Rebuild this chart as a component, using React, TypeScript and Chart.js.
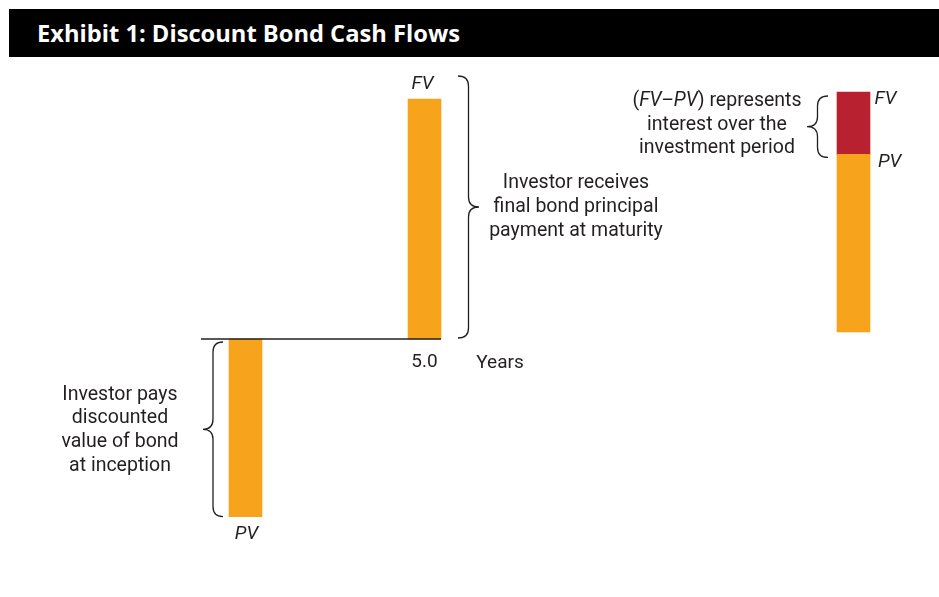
import { useEffect, useRef } from 'react';
import { Chart, registerables } from 'chart.js';

Chart.register(...registerables);

// ---- data ----
const TITLE = 'Exhibit 1: Discount Bond Cash Flows';
const YEARS = [0, 5];
const CASH_FLOWS = [-74, 100]; // PV paid at inception, FV received at maturity
const TICK_YEARS = [5];
const AXIS_TITLE = 'Years';
const DECOMP_VALUES = [74, 26]; // PV, FV-PV
const BAR_LABELS = ['PV', 'FV'];
const LEFT_NOTE = ['Investor pays', 'discounted', 'value of bond', 'at inception'];
const RIGHT_NOTE = ['Investor receives', 'final bond principal', 'payment at maturity'];
const INTEREST_NOTE_FIRST = ['(', 'FV–PV', ') represents'];
const INTEREST_NOTE_REST = ['interest over the', 'investment period'];

// ---- layout / style ----
const W = 939;
const H = 597;
const PX_PER_UNIT = 2.4;
const ZERO_Y = 339;
const DECOMP_ZERO_Y = 332;
const X0_PX = 245.5;
const PX_PER_YEAR = 35.8;
const DECOMP_X = 853.5;
const ORANGE = '#F8A31C';
const RED = '#B8212F';
const INK = '#231F20';
const FONT = 'Roboto, "Noto Sans", sans-serif';
const NOTE_SIZE = 19.5;
const LABEL_SIZE = 19;

function brace(ctx: CanvasRenderingContext2D, tipX: number, pointX: number, y1: number, y2: number) {
  const ym = (y1 + y2) / 2;
  const sx = (tipX + pointX) / 2;
  const r = Math.min(10, (y2 - y1) / 4);
  ctx.beginPath();
  ctx.moveTo(tipX, y1);
  ctx.quadraticCurveTo(sx, y1, sx, y1 + r);
  ctx.lineTo(sx, ym - r);
  ctx.quadraticCurveTo(sx, ym, pointX, ym);
  ctx.quadraticCurveTo(sx, ym, sx, ym + r);
  ctx.lineTo(sx, y2 - r);
  ctx.quadraticCurveTo(sx, y2, tipX, y2);
  ctx.stroke();
}

const annotations = {
  id: 'annotations',
  afterDatasetsDraw(chart: any) {
    const ctx: CanvasRenderingContext2D = chart.ctx;
    const { x, y, x2, y2 } = chart.scales;
    const zeroY = y.getPixelForValue(0);
    const pvY = y.getPixelForValue(CASH_FLOWS[0]);
    const fvY = y.getPixelForValue(CASH_FLOWS[1]);
    const pvX = x.getPixelForValue(YEARS[0]);
    const fvX = x.getPixelForValue(YEARS[1]);
    const dX = x2.getPixelForValue(0);
    const dTop = y2.getPixelForValue(DECOMP_VALUES[0] + DECOMP_VALUES[1]);
    const dMid = y2.getPixelForValue(DECOMP_VALUES[0]);

    ctx.save();
    ctx.strokeStyle = INK;
    ctx.fillStyle = INK;

    // axis line
    ctx.lineWidth = 1.5;
    ctx.beginPath();
    ctx.moveTo(pvX - 44.5, zeroY);
    ctx.lineTo(fvX + 16.5, zeroY);
    ctx.stroke();

    // braces
    ctx.lineWidth = 1.3;
    brace(ctx, fvX + 33.5, fvX + 54.5, fvY - 23, zeroY - 1);
    brace(ctx, pvX - 22.5, pvX - 42.5, zeroY + 3, pvY);
    brace(ctx, dX - 25.5, dX - 46.5, dTop + 4, dMid + 3);

    ctx.textAlign = 'center';
    ctx.textBaseline = 'middle';
    ctx.font = `italic ${LABEL_SIZE}px ${FONT}`;
    ctx.fillText(BAR_LABELS[1], fvX - 2, fvY - 15);
    ctx.fillText(BAR_LABELS[0], pvX + 1, pvY + 18);
    ctx.textAlign = 'left';
    ctx.fillText(BAR_LABELS[1], dX + 21, dTop + 7);
    ctx.fillText(BAR_LABELS[0], dX + 24.5, dMid + 8);

    ctx.textAlign = 'center';
    ctx.font = `${NOTE_SIZE}px ${FONT}`;
    const rm = (fvY - 23 + zeroY - 1) / 2;
    RIGHT_NOTE.forEach((t, i) => ctx.fillText(t, fvX + 151.5, rm + (i - 1) * 24));
    const lm = (zeroY + 3 + pvY) / 2 + 1;
    LEFT_NOTE.forEach((t, i) => ctx.fillText(t, pvX - 125.5, lm + (i - 1.5) * 23.7));

    // interest note
    const im = (dTop + 4 + dMid + 3) / 2 - 2;
    const cx = dX - 136.5;
    const fonts = [`${NOTE_SIZE}px ${FONT}`, `italic ${NOTE_SIZE}px ${FONT}`, `${NOTE_SIZE}px ${FONT}`];
    let total = 0;
    const widths = INTEREST_NOTE_FIRST.map((t, i) => {
      ctx.font = fonts[i];
      const w = ctx.measureText(t).width;
      total += w;
      return w;
    });
    let px = cx - total / 2;
    ctx.textAlign = 'left';
    INTEREST_NOTE_FIRST.forEach((t, i) => {
      ctx.font = fonts[i];
      ctx.fillText(t, px, im - 23.5);
      px += widths[i];
    });
    ctx.textAlign = 'center';
    ctx.font = `${NOTE_SIZE}px ${FONT}`;
    INTEREST_NOTE_REST.forEach((t, i) => ctx.fillText(t, cx, im + i * 23.5));

    // axis title
    ctx.font = `${LABEL_SIZE}px ${FONT}`;
    ctx.textBaseline = 'alphabetic';
    ctx.fillText(AXIS_TITLE, fvX + 75.5, 368);
    ctx.restore();
  },
};

export default function App() {
  const ref = useRef<HTMLCanvasElement>(null);
  useEffect(() => {
    if (!ref.current) return;
    const chart = new Chart(ref.current, {
      type: 'bar',
      data: {
        datasets: [
          {
            label: 'Cash flows',
            data: YEARS.map((yr, i) => ({ x: yr, y: CASH_FLOWS[i] })),
            backgroundColor: ORANGE,
            xAxisID: 'x',
            yAxisID: 'y',
            barThickness: 33,
            grouped: false,
          },
          {
            label: 'PV',
            data: [{ x: 0, y: DECOMP_VALUES[0] }],
            backgroundColor: ORANGE,
            xAxisID: 'x2',
            yAxisID: 'y2',
            barThickness: 33,
            grouped: false,
          },
          {
            label: 'FV−PV',
            data: [{ x: 0, y: DECOMP_VALUES[1] }],
            backgroundColor: RED,
            xAxisID: 'x2',
            yAxisID: 'y2',
            barThickness: 33,
            grouped: false,
          },
        ] as any,
      },
      options: {
        animation: false,
        responsive: false,
        devicePixelRatio: 1,
        layout: { padding: 0 },
        plugins: { legend: { display: false }, tooltip: { enabled: false }, title: { display: false } },
        scales: {
          x: {
            type: 'linear',
            position: { y: 0 } as any,
            offset: false,
            bounds: 'data',
            min: -X0_PX / PX_PER_YEAR,
            max: (W - X0_PX) / PX_PER_YEAR,
            afterBuildTicks: (axis: any) => {
              axis.ticks = TICK_YEARS.map((v) => ({ value: v }));
            },
            ticks: {
              callback: (v: any) => Number(v).toFixed(1),
              font: { family: FONT, size: LABEL_SIZE },
              color: INK,
              padding: 12,
              maxRotation: 0,
              autoSkip: false,
            },
            grid: { display: false, drawTicks: false, offset: false },
            border: { display: false },
          },
          y: {
            type: 'linear',
            display: false,
            min: -(H - ZERO_Y) / PX_PER_UNIT,
            max: ZERO_Y / PX_PER_UNIT,
          },
          x2: {
            type: 'linear',
            display: false,
            offset: false,
            grid: { offset: false },
            stacked: true,
            min: -DECOMP_X,
            max: W - DECOMP_X,
          },
          y2: {
            type: 'linear',
            display: false,
            stacked: true,
            min: -(H - DECOMP_ZERO_Y) / PX_PER_UNIT,
            max: DECOMP_ZERO_Y / PX_PER_UNIT,
          },
        },
      } as any,
      plugins: [annotations],
    });
    return () => chart.destroy();
  }, []);

  return (
    <div style={{ position: 'absolute', left: 0, top: 0, width: W, height: H, background: '#fff', overflow: 'hidden' }}>
      <canvas ref={ref} width={W} height={H} style={{ position: 'absolute', left: 0, top: 0, width: W, height: H }} />
      <div
        style={{
          position: 'absolute',
          left: 9,
          top: 9,
          width: W - 9,
          height: 48,
          background: '#000',
          color: '#fff',
          fontFamily: '"Open Sans", sans-serif',
          fontWeight: 700,
          fontSize: 23.7,
          lineHeight: '48px',
          paddingLeft: 28,
          boxSizing: 'border-box',
          whiteSpace: 'nowrap',
        }}
      >
        {TITLE}
      </div>
    </div>
  );
}
